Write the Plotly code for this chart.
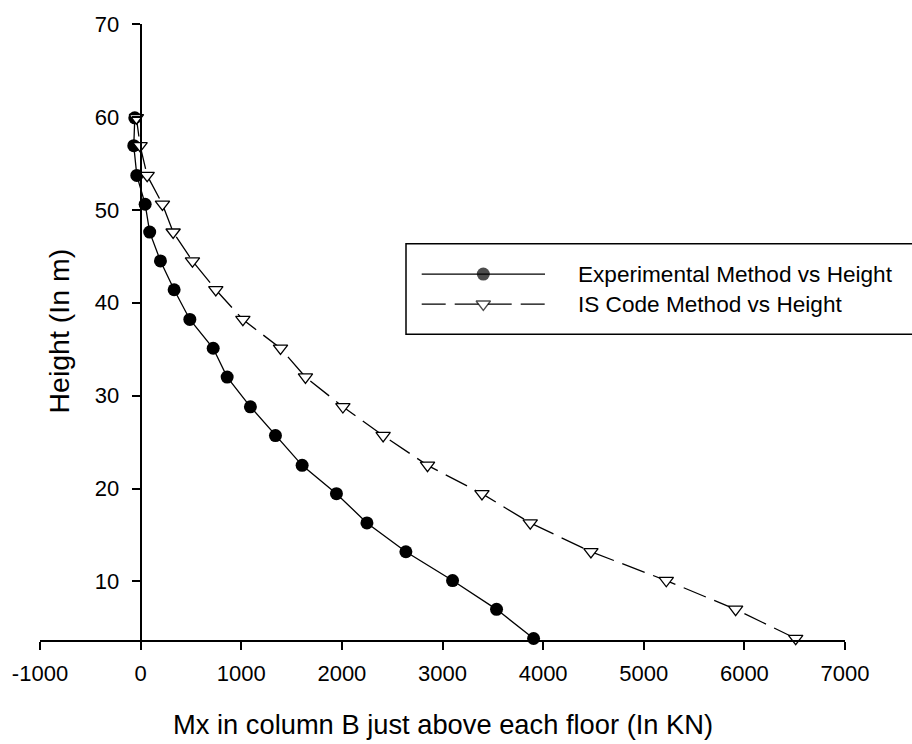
import plotly.graph_objects as go

# ---------------- data ----------------
height_m = [3.86, 7.0, 10.1, 13.2, 16.3, 19.45, 22.5, 25.7, 28.8, 32.0,
            35.1, 38.2, 41.4, 44.5, 47.6, 50.6, 53.7, 56.9, 59.9]
experimental_mx = [3905, 3537, 3100, 2636, 2249, 1946, 1605, 1340, 1091, 860,
                   721, 489, 333, 197, 90, 45, -38, -68, -58]
is_code_mx = [6510, 5913, 5224, 4475, 3872, 3392, 2851, 2410, 2010, 1638,
              1390, 1016, 747, 515, 323, 217, 65, -5, -42]

x_tick_values = [-1000, 0, 1000, 2000, 3000, 4000, 5000, 6000, 7000]
x_tick_labels = ["-1000", "0", "1000", "2000", "3000", "4000", "5000", "6000", "7000"]
y_tick_values = [10, 20, 30, 40, 50, 60, 70]

series_names = ["Experimental Method vs Height", "IS Code Method vs Height"]
x_title = "Mx in column B just above each floor (In KN)"
y_title = "Height (In m)"

# ---------------- styling ----------------
FONT = "Liberation Sans, Arial, Helvetica, sans-serif"
W, H = 912, 744
ML, MR, MT, MB = 40, 67, 21, 104
PW, PH = W - ML - MR, H - MT - MB


def px_x(p):  # pixel -> paper x
    return (p - ML) / PW


def px_y(p):  # pixel -> paper y
    return (H - MB - p) / PH


DASH = "24px,9px"
CIRCLE_SIZE = 13
TRI_SIZE = 12.5

fig = go.Figure()

fig.add_trace(go.Scatter(
    x=experimental_mx, y=height_m, mode="lines+markers",
    name=series_names[0], showlegend=False, cliponaxis=False,
    line=dict(color="black", width=1.3),
    marker=dict(symbol="circle", size=CIRCLE_SIZE, color="black",
                line=dict(color="black", width=0)),
))
fig.add_trace(go.Scatter(
    x=is_code_mx, y=height_m, mode="lines+markers",
    name=series_names[1], showlegend=False, cliponaxis=False,
    line=dict(color="black", width=1.3, dash=DASH),
    marker=dict(symbol="triangle-down", size=TRI_SIZE, color="white",
                line=dict(color="black", width=1.3)),
))

# ---------------- custom legend (overlay axes in paper-like units) ----------------
leg_x = [px_x(421.7), px_x(483.3), px_x(545)]
row1_y = px_y(272.3)
row2_y = px_y(302.5)
fig.add_trace(go.Scatter(
    x=leg_x, y=[row1_y] * 3, xaxis="x2", yaxis="y2", mode="lines+markers",
    showlegend=False, hoverinfo="skip", cliponaxis=False,
    line=dict(color="black", width=1.3),
    marker=dict(symbol="circle", size=[0, CIRCLE_SIZE, 0], color="black",
                line=dict(color="black", width=0)),
))
fig.add_trace(go.Scatter(
    x=leg_x, y=[row2_y] * 3, xaxis="x2", yaxis="y2", mode="lines+markers",
    showlegend=False, hoverinfo="skip", cliponaxis=False,
    line=dict(color="black", width=1.3, dash=DASH),
    marker=dict(symbol="triangle-down", size=[0, TRI_SIZE, 0], color="white",
                line=dict(color="black", width=[0, 1.3, 0])),
))

axis_common = dict(
    showline=True, linecolor="black", linewidth=1.8,
    ticks="outside", ticklen=8, tickwidth=1.5, tickcolor="black",
    showgrid=False, zeroline=False,
    tickfont=dict(family=FONT, size=22, color="black"),
)

fig.update_layout(
    width=W, height=H,
    margin=dict(l=ML, r=MR, t=MT, b=MB, pad=0),
    paper_bgcolor="white", plot_bgcolor="white",
    font=dict(family=FONT, color="black"),
    xaxis=dict(range=[-1000, 7000], tickvals=x_tick_values, ticktext=x_tick_labels,
               anchor="y", domain=[0, 1], ticklabelstandoff=5, **axis_common),
    yaxis=dict(range=[3.7, 70], tickvals=y_tick_values, anchor="free",
               position=1000 / 8000, domain=[0, 1], ticklabelstandoff=8,
               **axis_common),
    xaxis2=dict(overlaying="x", range=[0, 1], visible=False, anchor="y2"),
    yaxis2=dict(overlaying="y", range=[0, 1], visible=False, anchor="x2"),
    shapes=[dict(type="rect", xref="paper", yref="paper",
                 x0=px_x(406), x1=px_x(930), y0=px_y(332.7), y1=px_y(241.7),
                 line=dict(color="black", width=1.5), fillcolor="rgba(0,0,0,0)")],
    annotations=[
        dict(text=series_names[0], xref="paper", yref="paper",
             x=px_x(576), y=row1_y, xanchor="left", yanchor="middle",
             showarrow=False, font=dict(family=FONT, size=22.6, color="black")),
        dict(text=series_names[1], xref="paper", yref="paper",
             x=px_x(576), y=row2_y, xanchor="left", yanchor="middle",
             showarrow=False, font=dict(family=FONT, size=22.6, color="black")),
        dict(text=x_title, xref="paper", yref="paper",
             x=0.5, y=px_y(725), xanchor="center", yanchor="middle",
             showarrow=False, font=dict(family=FONT, size=27.3, color="black")),
        dict(text=y_title, xref="paper", yref="paper", textangle=-90,
             x=px_x(59), y=px_y(330), xanchor="center", yanchor="middle",
             showarrow=False, font=dict(family=FONT, size=28.5, color="black")),
    ],
)

fig.write_html(
    "out.html",
    config={"displayModeBar": False},
    post_script="document.body.style.margin='0px';"
                "document.documentElement.style.overflow='hidden';"
                "document.body.style.overflow='hidden';",
)
